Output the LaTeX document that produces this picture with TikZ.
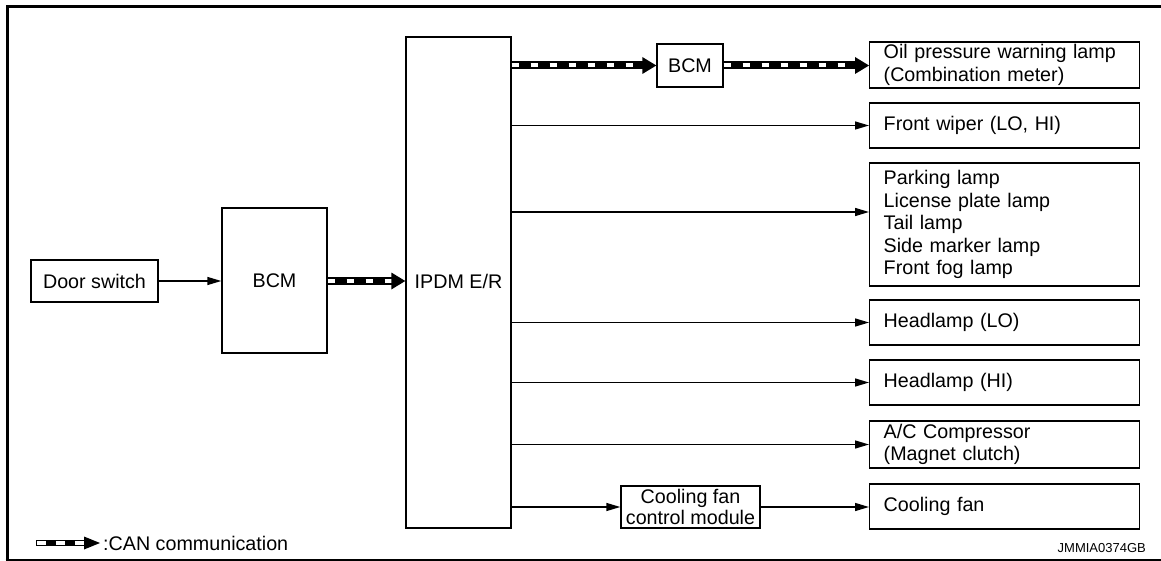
\documentclass[tikz,border=0pt]{standalone}
\usepackage{fontspec}
\setmainfont{Liberation Sans}
\usetikzlibrary{arrows.meta,calc}
\begin{document}
\begin{tikzpicture}[x=1pt,y=-1pt,
  txt/.style={font=\fontsize{19.7}{22.5}\selectfont},
  box/.style={draw, line width=1.4pt, inner sep=0pt, txt, align=center},
  rbox/.style={box, anchor=west, minimum width=270pt, text width=242pt, inner xsep=14pt, align=left},
  sig/.style={line width=1.4pt, -{Triangle[length=14pt,width=8pt]}},
  canband/.style={line width=8pt, black},
  candash/.style={line width=4pt, white, dash pattern=on 7pt off 12pt},
  lgband/.style={line width=5.5pt, black},
  lgdash/.style={line width=3.2pt, white, dash pattern=on 9pt off 10pt}
]
\useasboundingbox (0,0) rectangle (1161,561);
% frame
\draw[line width=3pt] (7,559) -- (7,6.5) -- (1161,6.5);
\draw[line width=2pt] (5.5,559.5) -- (1161,559.5);

% nodes
\node[box, minimum width=127pt, minimum height=42pt] (door) at (94.5,281) {Door switch};
\node[box, minimum width=105pt, minimum height=145pt] (bcml) at (274.5,280.5) {BCM};
\node[box, minimum width=105pt, minimum height=491pt] (ipdm) at (458.5,282.5) {};
\node[txt] (ipdmlbl) at (458.5,281) {IPDM E/R};
\node[box, minimum width=66pt, minimum height=43pt] (bcmt) at (690,65.5) {BCM};
\node[box, minimum width=139pt, minimum height=42pt, font=\fontsize{19.7}{21}\selectfont] (cfcm) at (690.5,507) {Cooling fan\\control module};

\node[rbox, minimum height=46pt] (oil) at (869,65) {Oil pressure warning lamp\\(Combination meter)};
\node[rbox, minimum height=45pt] (wiper) at (869,125.5) {Front wiper (LO, HI)};
\node[rbox, minimum height=123pt] (park) at (869,224.5) {Parking lamp\\License plate lamp\\Tail lamp\\Side marker lamp\\Front fog lamp};
\node[rbox, minimum height=45pt] (hlo) at (869,322.5) {Headlamp (LO)};
\node[rbox, minimum height=45pt] (hhi) at (869,382.5) {Headlamp (HI)};
\node[rbox, minimum height=47pt] (ac) at (869,444.5) {A/C Compressor\\(Magnet clutch)};
\node[rbox, minimum height=45pt] (fan) at (869,506.5) {Cooling fan};
\coordinate (parkin) at ($(park.west)+(0,-12.5)$);

% thin signal arrows
\draw[sig] (door.east) -- (door.east -| bcml.west);
\draw[sig] (ipdm.east |- wiper) -- (wiper.west);
\draw[sig] (ipdm.east |- parkin) -- (parkin);
\draw[sig] (ipdm.east |- hlo) -- (hlo.west);
\draw[sig] (ipdm.east |- hhi) -- (hhi.west);
\draw[sig] (ipdm.east |- ac) -- (ac.west);
\draw[sig] (ipdm.east |- cfcm) -- (cfcm.west);
\draw[sig] (cfcm.east) -- (cfcm.east -| fan.west);

% CAN arrows
\coordinate (c1s) at (bcml.east |- door);
\coordinate (c1e) at (c1s -| ipdm.west);
\draw[canband] (c1s) -- ($(c1e)+(-12,0)$);
\draw[candash] (c1s) -- ($(c1e)+(-12,0)$);
\fill (c1e) -- ++(-14,-8.5) -- ++(0,17) -- cycle;

\coordinate (c2s) at (ipdm.east |- bcmt);
\draw[canband] (c2s) -- ($(bcmt.west)+(-12,0)$);
\draw[candash] (c2s) -- ($(bcmt.west)+(-12,0)$);
\fill (bcmt.west) -- ++(-14,-8.5) -- ++(0,17) -- cycle;

\coordinate (c3e) at (bcmt.east -| oil.west);
\draw[canband] (bcmt.east) -- ($(c3e)+(-12,0)$);
\draw[candash] (bcmt.east) -- ($(c3e)+(-12,0)$);
\fill (c3e) -- ++(-14,-8.5) -- ++(0,17) -- cycle;

% legend
\coordinate (lg0) at (36,543);
\coordinate (lg1) at (100,543);
\draw[lgband] (lg0) -- ($(lg1)+(-15,0)$);
\draw[lgdash] ($(lg0)+(0.8,0)$) -- ($(lg1)+(-15,0)$);
\fill (lg1) -- ++(-16,-6.5) -- ++(0,13) -- cycle;
\node[txt, anchor=west, inner sep=0pt] (lgtxt) at (103,543) {:CAN communication};

\node[font=\fontsize{13}{15}\selectfont, anchor=east, inner sep=0pt] (code) at (1146,548) {JMMIA0374GB};
\end{tikzpicture}
\end{document}
